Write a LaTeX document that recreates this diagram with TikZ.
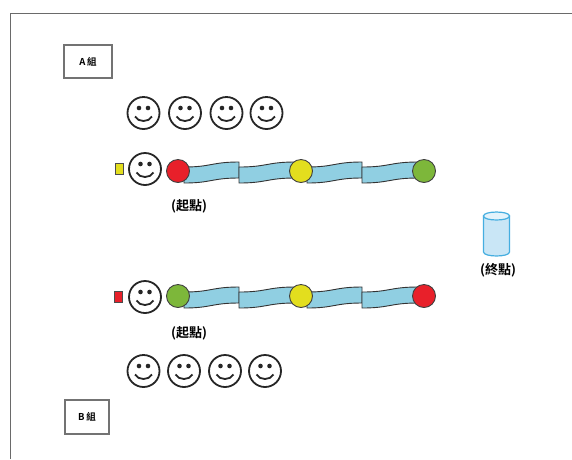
\documentclass[tikz,border=0pt]{standalone}
\usepackage{fontspec}
\newfontfamily\cjk{Noto Sans CJK TC}
\newfontfamily\cjkb{Noto Sans CJK TC Bold}
\pgfdeclarelayer{background}
\pgfdeclarelayer{paper}
\pgfsetlayers{paper,background,main}

\definecolor{frameline}{HTML}{6A6A6A}
\definecolor{ballred}{HTML}{E8202A}
\definecolor{ballyellow}{HTML}{E3DE1E}
\definecolor{ballgreen}{HTML}{7DB73A}
\definecolor{tubefill}{HTML}{90CFE2}
\definecolor{cupline}{HTML}{45AEE0}
\definecolor{cupfill}{HTML}{C9E6F6}
\definecolor{cuptop}{HTML}{E4F3FB}

\tikzset{
  face/.style={circle, draw=black!85, line width=1.8pt, minimum size=32pt, inner sep=0pt,
    path picture={
      \fill[black!85] ([shift={(-4.5pt,5pt)}]path picture bounding box.center) circle (2.3pt);
      \fill[black!85] ([shift={(4.5pt,5pt)}]path picture bounding box.center) circle (2.3pt);
      \draw[black!85, line width=1.8pt]
        ([shift={(-8.5pt,-3.5pt)}]path picture bounding box.center)
        .. controls +(3.5pt,-6pt) and +(-3.5pt,-6pt) ..
        ([shift={(8.5pt,-3.5pt)}]path picture bounding box.center);
    }},
  ball/.style={circle, draw=black!75, line width=0.9pt, minimum size=23pt, inner sep=0pt},
  tag/.style={rectangle, fill=#1, draw=black!70, line width=0.6pt, minimum width=8pt, minimum height=11pt, inner sep=0pt},
  groupbox/.style={rectangle, draw=black!55, line width=1.1pt, inner sep=0pt, font=\cjkb\fontsize{9.5}{10}\selectfont},
  caption/.style={inner sep=0pt, font=\cjkb\fontsize{13}{14}\selectfont},
  tubeseg/.pic={
    \draw[black!80, line width=0.9pt, fill=tubefill]
      (0,-5) .. controls (0.5*#1,-5) and (0.5*#1,-10) .. (#1,-10) -- (#1,6)
      .. controls (0.5*#1,6) and (0.5*#1,11) .. (0,11) -- cycle;
  }
}

\begin{document}
\begin{tikzpicture}[x=1pt,y=-1pt]
\useasboundingbox (0,0) rectangle (572,459);
\begin{pgfonlayer}{paper}
  \fill[white] (0,0) rectangle (572,459);
\end{pgfonlayer}

% outer frame (left and top edges)
\draw[frameline, line width=1.3pt] (10.5,459) -- (10.5,13.5) -- (572,13.5);

% team labels
\node[groupbox, minimum width=48pt, minimum height=33pt] (grpA) at (88,61.5) {A\,組};
\node[groupbox, minimum width=44pt, minimum height=34pt] (grpB) at (87,417) {B\,組};

% waiting players of team A
\node[face] (a1) at (143.5,113) {};
\node[face] (a2) at (185,113) {};
\node[face] (a3) at (226.5,113) {};
\node[face] (a4) at (266.5,113) {};

% team A runner and course
\node[tag=ballyellow] (fa) at (119,169) {};
\node[face] (ra) at (145,169) {};
\node[ball, fill=ballred] (sa) at (178,171) {};
\node[ball, fill=ballyellow] (ma) at (301,171) {};
\node[ball, fill=ballgreen] (ea) at (424,171) {};
\begin{pgfonlayer}{background}
  \pic at (184,172) {tubeseg=55};
  \pic at (239,172) {tubeseg=56};
  \pic at (307,172) {tubeseg=55};
  \pic at (362,172) {tubeseg=56};
\end{pgfonlayer}
\node[caption] (la) at (189,206) {(起點)};

% finish cup
\coordinate (goal) at (496.5,234);
\filldraw[draw=cupline, fill=cupfill, line width=1.2pt]
  (483.5,216) -- (483.5,252)
  .. controls (483.5,257.3) and (509.5,257.3) .. (509.5,252)
  -- (509.5,216) -- cycle;
\filldraw[draw=cupline, fill=cuptop, line width=1.2pt]
  (483.5,216) .. controls (483.5,221.3) and (509.5,221.3) .. (509.5,216)
  .. controls (509.5,210.7) and (483.5,210.7) .. (483.5,216) -- cycle;
\node[caption] (lg) at (498,270) {(終點)};

% team B runner and course
\node[tag=ballred] (fb) at (118.5,297) {};
\node[face] (rb) at (145,297) {};
\node[ball, fill=ballgreen] (sb) at (178,296) {};
\node[ball, fill=ballyellow] (mb) at (301,296) {};
\node[ball, fill=ballred] (eb) at (424,296) {};
\begin{pgfonlayer}{background}
  \pic at (184,297) {tubeseg=55};
  \pic at (239,297) {tubeseg=56};
  \pic at (307,297) {tubeseg=55};
  \pic at (362,297) {tubeseg=56};
\end{pgfonlayer}
\node[caption] (lb) at (189,333) {(起點)};

% waiting players of team B
\node[face] (b1) at (143.5,371) {};
\node[face] (b2) at (184,371) {};
\node[face] (b3) at (225,371) {};
\node[face] (b4) at (265,371) {};
\end{tikzpicture}
\end{document}
